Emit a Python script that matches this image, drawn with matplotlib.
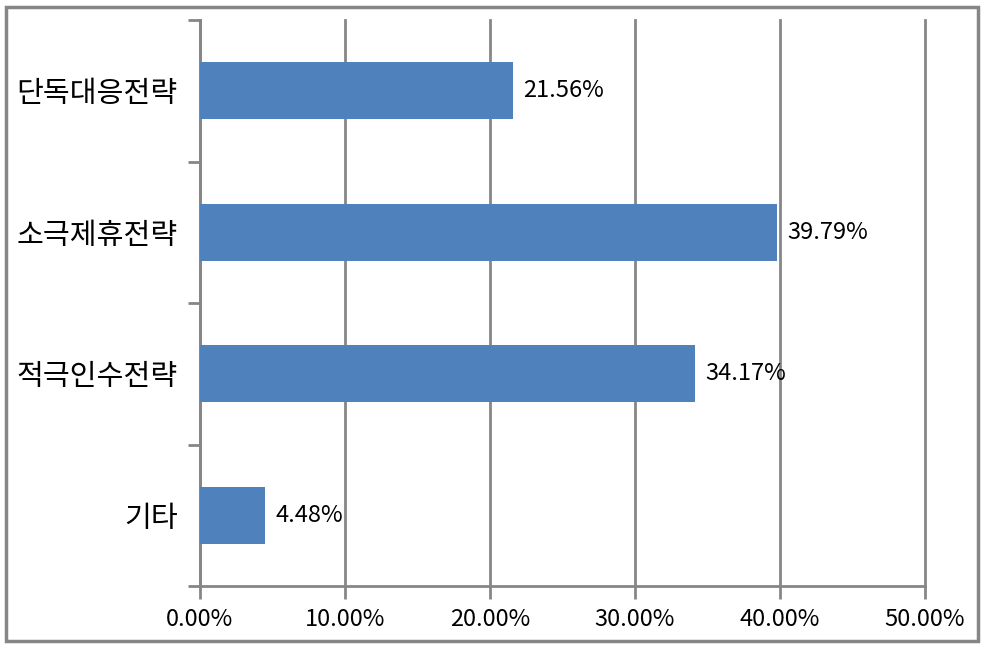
import matplotlib
matplotlib.use('Agg')
import matplotlib.pyplot as plt
from matplotlib.patches import Rectangle
from matplotlib.ticker import FuncFormatter

plt.rcParams['font.family'] = ['Noto Sans CJK KR', 'DejaVu Sans']

categories = ['단독대응전략', '소극제휴전략', '적극인수전략', '기타']
values = [21.56, 39.79, 34.17, 4.48]
xticks = [0, 10, 20, 30, 40, 50]

bar_color = '#4F81BD'
axis_gray = '#868686'

fig = plt.figure(figsize=(9.87, 6.49), dpi=100)
ax = fig.add_axes([200 / 987, 1 - 586 / 649, 725 / 987, 566 / 649])

pos = list(range(len(categories)))[::-1]
ax.barh(pos, values, height=0.4, color=bar_color, zorder=3)
for y, v in zip(pos, values):
    ax.text(v + 0.7, y, '%.2f%%' % v, va='center', ha='left', fontsize=17, zorder=4)

ax.set_xlim(0, 50)
ax.set_ylim(-0.5, len(categories) - 0.5)
ax.set_xticks(xticks)
ax.xaxis.set_major_formatter(FuncFormatter(lambda x, p: '%.2f%%' % x))
ax.set_yticks(pos)
ax.set_yticklabels(categories, fontsize=21)
ax.set_yticks([i - 0.5 for i in range(len(categories) + 1)], minor=True)
ax.tick_params(axis='y', which='major', length=0, pad=16)
ax.tick_params(axis='y', which='minor', length=9, width=2, color=axis_gray, direction='out')
ax.tick_params(axis='x', length=9, width=2, color=axis_gray, direction='out', labelsize=17, pad=7)
ax.xaxis.grid(True, color=axis_gray, linewidth=2, zorder=0)
for gl in ax.get_xgridlines():
    gl.set_clip_on(False)
for s in ['top', 'right']:
    ax.spines[s].set_visible(False)
for s in ['left', 'bottom']:
    ax.spines[s].set_color(axis_gray)
    ax.spines[s].set_linewidth(2)

fig.patches.append(Rectangle((6 / 987, 8 / 649), 972 / 987, 634 / 649, transform=fig.transFigure,
                             fill=False, edgecolor=axis_gray, linewidth=2.5))

fig.savefig('out.png', dpi=100)
